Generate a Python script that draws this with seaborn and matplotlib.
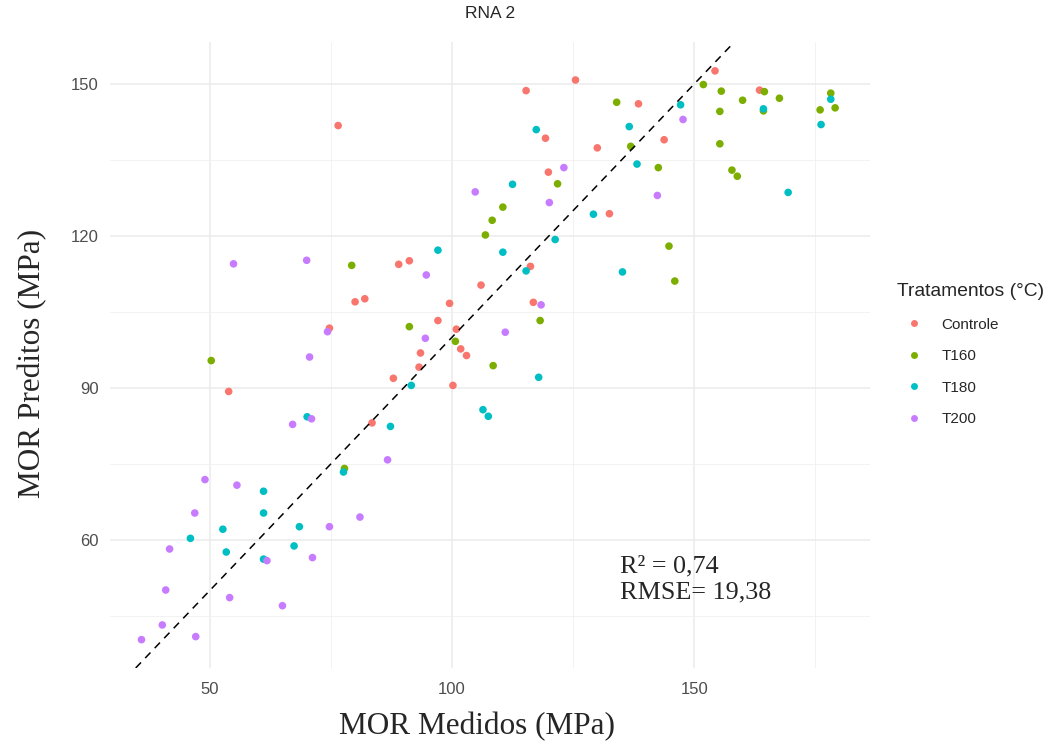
import matplotlib
matplotlib.use("Agg")
import matplotlib.pyplot as plt
import seaborn as sns
import pandas as pd
from matplotlib.ticker import MultipleLocator
from matplotlib.lines import Line2D

groups = ["Controle", "T160", "T180", "T200"]
colors = ["#F8766D", "#7CAE00", "#00BFC4", "#C77CFF"]

controle_med = [76.5, 115.3, 125.5, 119.3, 130.0, 119.9, 132.5, 154.3, 163.5, 138.5,
                143.8, 80.0, 74.7, 53.9, 89.0, 91.2, 82.0, 116.2, 106.0, 99.5,
                116.8, 97.1, 100.9, 101.8, 103.0, 93.5, 93.2, 87.9, 100.2, 83.5]
controle_pred = [141.8, 148.7, 150.8, 139.3, 137.4, 132.6, 124.4, 152.6, 148.8, 146.1,
                 139.0, 107.0, 101.8, 89.3, 114.4, 115.1, 107.6, 114.0, 110.3, 106.7,
                 106.9, 103.3, 101.6, 97.7, 96.4, 96.9, 94.1, 91.9, 90.5, 83.1]

t160_med = [121.8, 110.5, 108.3, 106.9, 151.9, 155.6, 164.5, 167.6, 160.0, 134.0,
            155.3, 164.3, 178.2, 176.0, 179.1, 155.3, 136.9, 142.6, 157.8, 158.9,
            144.8, 146.0, 79.3, 50.3, 118.2, 91.2, 100.7, 108.5, 77.8]
t160_pred = [130.3, 125.7, 123.1, 120.2, 149.9, 148.6, 148.5, 147.2, 146.8, 146.4,
             144.6, 144.7, 148.2, 144.9, 145.3, 138.2, 137.7, 133.5, 133.0, 131.8,
             118.0, 111.1, 114.2, 95.4, 103.3, 102.1, 99.2, 94.4, 74.1]

t180_med = [117.4, 112.5, 129.2, 121.3, 97.1, 110.5, 147.2, 164.3, 178.2, 176.2,
            136.6, 138.2, 169.4, 135.2, 115.3, 70.1, 91.6, 117.9, 106.4, 107.5,
            87.3, 77.6, 61.1, 61.1, 52.7, 68.5, 46.0, 53.4, 67.4, 61.1]
t180_pred = [141.0, 130.2, 124.3, 119.3, 117.2, 116.8, 145.9, 145.1, 147.0, 142.0,
             141.6, 134.2, 128.6, 112.9, 113.1, 84.3, 90.5, 92.1, 85.7, 84.4,
             82.4, 73.4, 69.6, 65.3, 62.1, 62.6, 60.3, 57.6, 58.8, 56.2]

t200_med = [123.1, 104.8, 120.1, 147.7, 142.4, 54.9, 70.0, 74.3, 70.6, 71.0,
            67.1, 94.7, 118.4, 94.5, 111.0, 86.7, 81.0, 49.0, 55.6, 46.9,
            74.7, 41.7, 61.8, 71.2, 40.9, 54.1, 65.0, 40.2, 47.1, 35.9]
t200_pred = [133.5, 128.7, 126.6, 143.0, 128.0, 114.5, 115.2, 101.1, 96.1, 83.9,
             82.8, 112.3, 106.4, 99.8, 101.0, 75.8, 64.5, 71.9, 70.8, 65.3,
             62.6, 58.2, 55.9, 56.5, 50.1, 48.6, 47.0, 43.2, 40.9, 40.3]

x_ticks = [50, 100, 150]
y_ticks = [60, 90, 120, 150]
annot = "R² = 0,74\nRMSE= 19,38"

rows = []
for g, xs, ys in zip(groups,
                     [controle_med, t160_med, t180_med, t200_med],
                     [controle_pred, t160_pred, t180_pred, t200_pred]):
    for a, b in zip(xs, ys):
        rows.append({"med": a, "pred": b, "grp": g})
df = pd.DataFrame(rows)

sns.set_theme(style="white")
plt.rcParams["font.family"] = ["Liberation Sans", "DejaVu Sans"]

fig = plt.figure(figsize=(10.55, 7.46), dpi=100)
ax = fig.add_axes([110 / 1055, 1 - 668 / 746, 760 / 1055, 626 / 746])

sns.scatterplot(data=df, x="med", y="pred", hue="grp", hue_order=groups,
                palette=colors, s=30, linewidth=0, ax=ax, legend=False, zorder=3)

ax.axline((50, 50), slope=1, color="black", lw=1.1, ls=(0, (5, 4)), zorder=4)

ax.set_xticks(x_ticks)
ax.set_yticks(y_ticks)
ax.xaxis.set_minor_locator(MultipleLocator(25))
ax.yaxis.set_minor_locator(MultipleLocator(15))
ax.set_xlim(29.4, 186.3)
ax.set_ylim(34.7, 158.3)
ax.grid(which="major", color="#EBEBEB", lw=1.1, zorder=0)
ax.grid(which="minor", color="#F0F0F0", lw=0.6, zorder=0)
ax.set_axisbelow(True)
for sp in ax.spines.values():
    sp.set_visible(False)
ax.tick_params(which="both", length=0, labelsize=12, labelcolor="#4D4D4D")
ax.tick_params(axis="x", pad=10)
ax.tick_params(axis="y", pad=8)

ax.set_xlabel("MOR Medidos (MPa)", family="Liberation Serif", fontsize=22.5)
ax.set_ylabel("MOR Preditos (MPa)", family="Liberation Serif", fontsize=22.5)
ax.xaxis.set_label_coords((477 - 110) / 760, -(727 - 668) / 626)
ax.yaxis.set_label_coords(-(110 - 33) / 760, (668 - 363) / 626)
ax.xaxis.label.set_va("center")
ax.yaxis.label.set_va("center")
ax.set_title("RNA 2", fontsize=12.5, pad=17)

ax.text(134.6, 57.0, annot, family="Liberation Serif", fontsize=18.8,
        va="top", ha="left", linespacing=1.25, zorder=5)

handles = [Line2D([], [], marker="o", ls="", color=c, markersize=5, markeredgewidth=0)
           for c in colors]
leg = fig.legend(handles, groups, title="Tratamentos (°C)", loc="upper left",
                 bbox_to_anchor=(891 / 1055, 1 - 277 / 746), frameon=False,
                 fontsize=11, title_fontsize=13.9, labelspacing=1.15,
                 handlelength=2.2, handletextpad=0.7, borderaxespad=0)
leg._legend_box.align = "left"

fig.savefig("out.png", dpi=100)
